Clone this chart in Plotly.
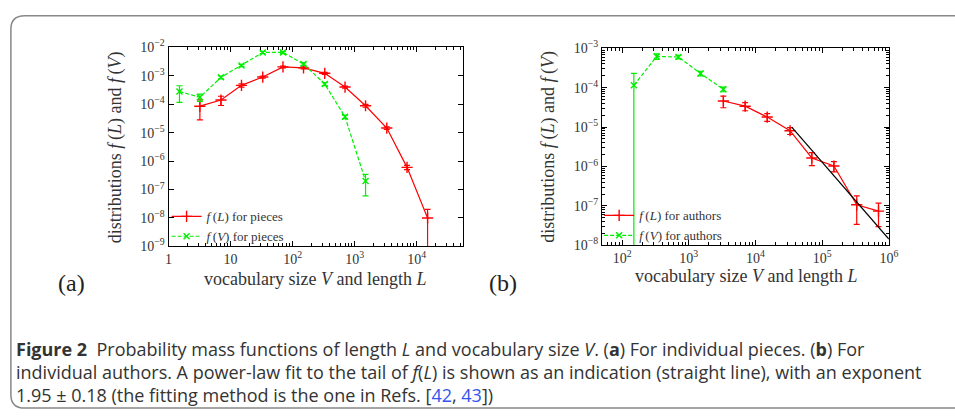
import plotly.graph_objects as go

# ---------------- data: panel (a) individual pieces ----------------
a_L_x = [3.2, 7, 15, 33, 70, 150, 330, 700, 1500, 3300, 7000, 15000]
a_L_y = [8.5e-5, 1.4e-4, 4.6e-4, 9.0e-4, 2.05e-3, 1.9e-3, 1.22e-3, 4.0e-4, 8.8e-5, 1.45e-5, 6.0e-7, 1.0e-8]
a_L_err = [5.7e-5, 5.0e-5, 6e-5, 8e-5, 1.5e-4, 1.5e-4, 1.0e-4, 3.5e-5, 1.0e-5, 1.5e-6, 1.0e-7, 1.0e-8]

a_V_x = [1.5, 3.2, 7, 15, 33, 70, 150, 330, 700, 1500]
a_V_y = [2.8e-4, 1.75e-4, 8.8e-4, 2.3e-3, 6.6e-3, 6.6e-3, 2.6e-3, 5.1e-4, 3.6e-5, 2.0e-7]
a_V_err = [1.65e-4, 5e-5, 1e-4, 2e-4, 6e-4, 6e-4, 3e-4, 6e-5, 5e-6, 1.4e-7]

# ---------------- data: panel (b) individual authors ----------------
b_L_x = [3300, 7000, 15000, 33000, 70000, 150000, 330000, 700000]
b_L_y = [4.6e-5, 3.4e-5, 1.8e-5, 8.1e-6, 1.65e-6, 1.03e-6, 1.07e-7, 7.4e-8]
b_L_err = [1.5e-5, 8e-6, 4e-6, 1.6e-6, 6e-7, 3e-7, 7.3e-8, 4.4e-8]

b_V_x = [150, 330, 700, 1500, 3300]
b_V_y = [1.15e-4, 6.2e-4, 6.0e-4, 2.3e-4, 9.1e-5]
b_V_err = [1.15e-4, 1.0e-4, 6e-5, 3e-5, 1.2e-5]

fit_x = [35000, 1000000]
fit_y = [1.0e-5, 1.45e-8]

# tick labels
a_xticks = [1, 10, 100, 1000, 10000]
a_xlabels = ["1", "10", "10<sup>2</sup>", "10<sup>3</sup>", "10<sup>4</sup>"]
a_yticks = [1e-9, 1e-8, 1e-7, 1e-6, 1e-5, 1e-4, 1e-3, 1e-2]
a_ylabels = ["10<sup>−9</sup>", "10<sup>−8</sup>", "10<sup>−7</sup>", "10<sup>−6</sup>",
             "10<sup>−5</sup>", "10<sup>−4</sup>", "10<sup>−3</sup>", "10<sup>−2</sup>"]
b_xticks = [1e2, 1e3, 1e4, 1e5, 1e6]
b_xlabels = ["10<sup>2</sup>", "10<sup>3</sup>", "10<sup>4</sup>", "10<sup>5</sup>", "10<sup>6</sup>"]
b_yticks = [1e-8, 1e-7, 1e-6, 1e-5, 1e-4, 1e-3]
b_ylabels = ["10<sup>−8</sup>", "10<sup>−7</sup>", "10<sup>−6</sup>",
             "10<sup>−5</sup>", "10<sup>−4</sup>", "10<sup>−3</sup>"]

RED = "#ff0000"
GREEN = "#00ee00"
SERIF = "Liberation Serif, DejaVu Serif, serif"
W, H = 955, 418

fig = go.Figure()

def add_series(x, y, err, color, symbol, size, dash, name, xa, ya, legend):
    fig.add_trace(go.Scatter(
        x=x, y=y, mode="lines+markers", name=name,
        xaxis=xa, yaxis=ya, legend=legend,
        line=dict(color=color, width=1.2, dash=dash),
        marker=dict(symbol=symbol, size=size, color=color,
                    line=dict(color=color, width=1.4)),
        error_y=dict(type="data", array=err, visible=True,
                     color=color, thickness=1.2, width=3),
    ))

add_series(a_L_x, a_L_y, a_L_err, RED, "cross-thin", 8, "solid",
           "<i>f</i>\u2009(<i>L</i>) for pieces", "x", "y", "legend")
add_series(a_V_x, a_V_y, a_V_err, GREEN, "x-thin", 6, "4px,2px",
           "<i>f</i>\u2009(<i>V</i>) for pieces", "x", "y", "legend")
add_series(b_L_x, b_L_y, b_L_err, RED, "cross-thin", 8, "solid",
           "<i>f</i>\u2009(<i>L</i>) for authors", "x2", "y2", "legend2")
add_series(b_V_x, b_V_y, b_V_err, GREEN, "x-thin", 6, "4px,2px",
           "<i>f</i>\u2009(<i>V</i>) for authors", "x2", "y2", "legend2")
fig.add_trace(go.Scatter(x=fit_x, y=fit_y, mode="lines", xaxis="x2", yaxis="y2",
                         line=dict(color="black", width=1.2), showlegend=False))

def minor_vals(lo, hi):
    vals = []
    for e in range(lo, hi):
        for m in range(2, 10):
            vals.append(m * 10 ** e)
    return vals

axis_common = dict(type="log", showgrid=False, zeroline=False, showline=True,
                   linecolor="black", linewidth=1.2, mirror="ticks",
                   ticks="inside", ticklen=5, tickcolor="black", tickwidth=1,
                   tickfont=dict(family=SERIF, size=14, color="#333"))

fig.update_layout(
    width=W, height=H, margin=dict(l=0, r=0, t=0, b=0),
    paper_bgcolor="white", plot_bgcolor="white",
    xaxis=dict(axis_common, domain=[167 / W, 466 / W], range=[0, 4.75], anchor="y",
               tickmode="array", tickvals=a_xticks, ticktext=a_xlabels,
               minor=dict(tickmode="array", tickvals=minor_vals(0, 5), ticks="inside",
                          ticklen=3, tickcolor="black")),
    yaxis=dict(axis_common, domain=[1 - 247 / H, 1 - 39 / H], range=[-9, -2], anchor="x",
               tickmode="array", tickvals=a_yticks, ticktext=a_ylabels),
    xaxis2=dict(axis_common, domain=[607 / W, 898 / W], range=[1.7, 6], anchor="y2",
                tickmode="array", tickvals=b_xticks, ticktext=b_xlabels,
                minor=dict(tickmode="array", tickvals=minor_vals(1, 6), ticks="inside",
                           ticklen=3, tickcolor="black")),
    yaxis2=dict(axis_common, domain=[1 - 246 / H, 1 - 40 / H], range=[-8, -3], anchor="x2",
                tickmode="array", tickvals=b_yticks, ticktext=b_ylabels,
                minor=dict(tickmode="array", tickvals=minor_vals(-8, -3), ticks="inside",
                           ticklen=3, tickcolor="black")),
    legend=dict(x=165 / W, y=1 - 200 / H, xanchor="left", yanchor="top",
                bgcolor="rgba(0,0,0,0)", itemwidth=30, tracegroupgap=0,
                font=dict(family=SERIF, size=13, color="#333")),
    legend2=dict(x=604 / W, y=1 - 199 / H, xanchor="left", yanchor="top",
                 bgcolor="rgba(0,0,0,0)", itemwidth=30, tracegroupgap=0,
                 font=dict(family=SERIF, size=13, color="#333")),
    showlegend=True,
)

ann_font = dict(family=SERIF, size=18, color="#333")
def ann(text, x, y, font, angle=0, xanchor="center"):
    return dict(text=text, x=x / W, y=1 - y / H, xref="paper", yref="paper",
                xanchor=xanchor, yanchor="middle", showarrow=False,
                textangle=angle, font=font)

ytitle = "distributions <i>f</i>\u2009(<i>L</i>) and <i>f</i>\u2009(<i>V</i>)"
xtitle = "vocabulary size <i>V</i> and length <i>L</i>"
annotations = [
    ann(xtitle, 316, 281, ann_font),
    ann(xtitle, 753, 278, ann_font),
    ann(ytitle, 113, 143, ann_font, angle=-90),
    ann(ytitle, 553, 143, ann_font, angle=-90),
    ann("(a)", 68, 285, dict(family=SERIF, size=24, color="#222")),
    ann("(b)", 506, 285, dict(family=SERIF, size=24, color="#222")),
]

CAP = "Open Sans, Noto Sans, sans-serif"
cap_font = dict(family=CAP, size=18, color="#333")
cap_lines = [
    "<b>Figure 2</b>  Probability mass functions of length <i>L</i> and vocabulary size <i>V</i>. "
    "(<b>a</b>) For individual pieces. (<b>b</b>) For",
    "individual authors. A power-law fit to the tail of <i>f</i>(<i>L</i>) is shown as an "
    "indication (straight line), with an exponent",
    "1.95 ± 0.18 (the fitting method is the one in Refs. "
    "[<span style='color:#3355ee'>42</span>, <span style='color:#3355ee'>43</span>])",
]
for i, t in enumerate(cap_lines):
    annotations.append(ann(t, 10, 354 + 24 * i, cap_font, xanchor="left"))
fig.update_layout(annotations=annotations)

# rounded frame
x0, x1 = 7 / W, 1.03
yt, yb = 1 - 6 / H, 1 - 416 / H
rx, ry = 14 / W, 14 / H
path = (f"M {x1},{yt} L {x0 + rx},{yt} Q {x0},{yt} {x0},{yt - ry} "
        f"L {x0},{yb + ry} Q {x0},{yb} {x0 + rx},{yb} L {x1},{yb}")
fig.add_shape(type="path", path=path, xref="paper", yref="paper",
              line=dict(color="#888", width=1.5))

fig.write_html("out.html", config={"displayModeBar": False},
               post_script="document.body.style.margin='0';document.body.style.overflow='hidden';")
